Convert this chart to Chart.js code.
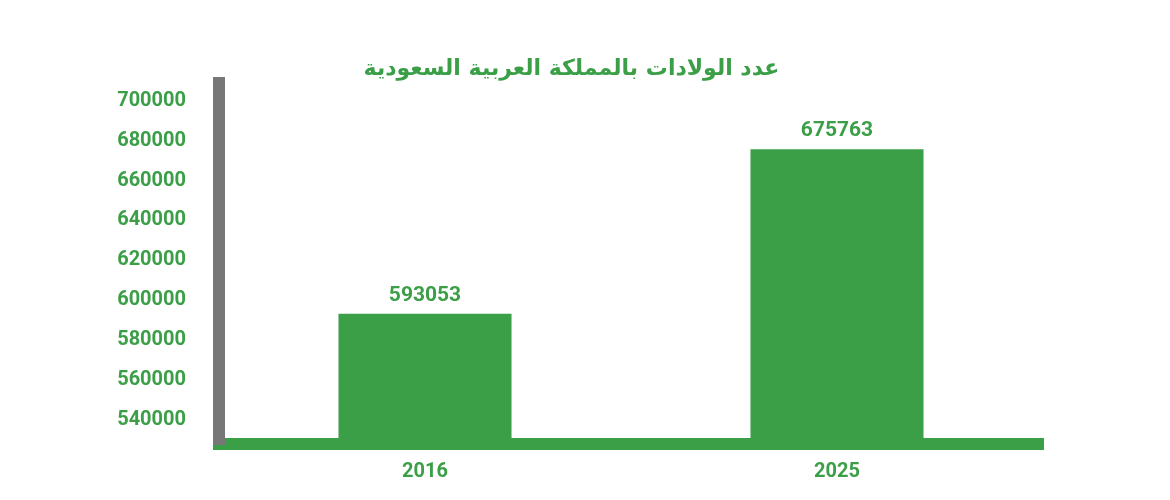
<!DOCTYPE html>
<html>
<head>
<meta charset="utf-8">
<script src="https://cdn.jsdelivr.net/npm/chart.js@4"></script>
<style>
  body { margin: 0; background: #fff; }
  #wrap { width: 1170px; height: 500px; }
</style>
</head>
<body>
<div id="wrap"><canvas id="c"></canvas></div>
<script>
// بيانات الرسم
const years = ['2016', '2025'];
const births = [593053, 675763];
const chartTitle = 'عدد الولادات بالمملكة العربية السعودية';

const green = '#3a9f47';
const font = 'Roboto, "DejaVu Sans", sans-serif';

// كتابة القيم فوق الأعمدة
const valueLabels = {
    id: 'valueLabels',
    afterDatasetsDraw(chart) {
        const ctx = chart.ctx;
        const meta = chart.getDatasetMeta(0);
        ctx.save();
        ctx.fillStyle = green;
        ctx.font = 'bold 21px ' + font;
        ctx.textAlign = 'center';
        ctx.textBaseline = 'bottom';
        meta.data.forEach((bar, i) => {
            ctx.fillText(String(births[i]), bar.x, bar.y - 8);
        });
        ctx.restore();
    }
};

new Chart(document.getElementById('c'), {
    type: 'bar',
    data: {
        labels: years,
        datasets: [{
            data: births,
            backgroundColor: green,
            categoryPercentage: 0.42,
            barPercentage: 1
        }]
    },
    options: {
        responsive: true, maintainAspectRatio: false,
        animation: false,
        layout: { padding: { left: 100, right: 127, top: 0, bottom: 0 } },
        plugins: {
            legend: { display: false },
            tooltip: { enabled: false },
            title: {
                display: true, text: chartTitle, color: green,
                font: { family: '"DejaVu Sans", "Noto Sans", sans-serif', size: 22, weight: 'bold' },
                padding: { top: 56, bottom: 1 }
            }
        },
        scales: {
            x: {
                grid: { display: false, drawTicks: false },
                border: { color: green, width: 12 },
                ticks: { color: green, font: { family: font, size: 20, weight: 'bold' }, padding: 16 }
            },
            y: {
                min: 527700, max: 708800,
                afterFit: scale => { scale.width = 119; },
                afterBuildTicks: scale => {
                    scale.ticks = [];
                    for (let v = 540000; v <= 700000; v += 20000) scale.ticks.push({ value: v });
                },
                grid: { display: false, drawTicks: false },
                border: { color: '#777777', width: 12 },
                ticks: {
                    color: green, font: { family: font, size: 20, weight: 'bold' }, padding: 33,
                    callback: v => String(v)
                }
            }
        }
    },
    plugins: [valueLabels]
});
</script>
</body>
</html>
